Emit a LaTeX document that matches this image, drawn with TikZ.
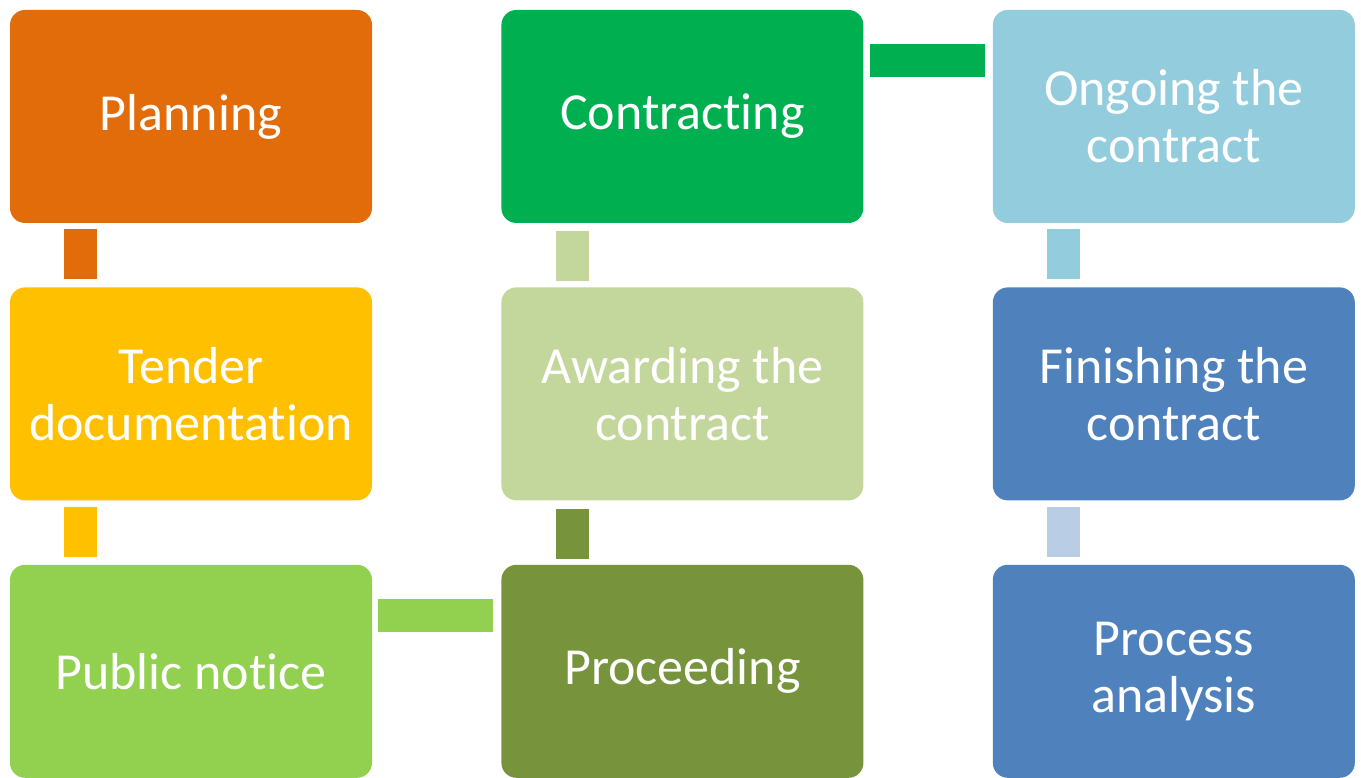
\documentclass[tikz,border=0pt]{standalone}
\usepackage{fontspec}
\setmainfont[Ligatures=NoCommon]{Carlito}
\usetikzlibrary{positioning}

\definecolor{planorange}{HTML}{E26B0A}
\definecolor{tenderyellow}{HTML}{FFC000}
\definecolor{noticegreen}{HTML}{92D050}
\definecolor{proceedolive}{HTML}{77933C}
\definecolor{awardgreen}{HTML}{C3D69B}
\definecolor{contractgreen}{HTML}{00B050}
\definecolor{ongoingblue}{HTML}{93CDDD}
\definecolor{finishblue}{HTML}{4F81BD}
\definecolor{finishpale}{HTML}{B9CDE5}

\begin{document}
\begin{tikzpicture}[x=1pt,y=1pt,node distance=64pt and 129pt,
    box/.style={rectangle,rounded corners=15pt,minimum width=362pt,
                minimum height=213pt,inner sep=0pt,align=center,text=white,
                font=\fontsize{52}{57}\selectfont},
    link/.style={line width=33pt,shorten <=6pt,shorten >=8pt}]

    \useasboundingbox (0,0) rectangle (1361,778);

    % first column
    \node[box,fill=planorange] (plan) at (191,661.5) {Planning};
    \node[box,fill=tenderyellow] (tender) [below=of plan] {Tender\\documentation};
    \node[box,fill=noticegreen] (notice) [below=of tender] {Public notice};

    % second column
    \node[box,fill=proceedolive] (proceed) [right=of notice] {Proceeding};
    \node[box,fill=awardgreen] (award) [above=of proceed] {Awarding the\\contract};
    \node[box,fill=contractgreen] (contract) [above=of award] {Contracting};

    % third column
    \node[box,fill=ongoingblue] (ongoing) [right=of contract] {Ongoing the\\contract};
    \node[box,fill=finishblue] (finish) [below=of ongoing] {Finishing the\\contract};
    \node[box,fill=finishblue] (analysis) [below=of finish] {Process\\analysis};

    % links
    \draw[link,planorange] ([xshift=71pt]plan.south west) -- ([xshift=71pt]tender.north west);
    \draw[link,tenderyellow] ([xshift=71pt]tender.south west) -- ([xshift=71pt]notice.north west);
    \draw[link,noticegreen] ([yshift=-51pt]notice.north east) -- ([yshift=-51pt]proceed.north west);
    \draw[link,proceedolive] ([xshift=71pt]proceed.north west) -- ([xshift=71pt]award.south west);
    \draw[link,awardgreen] ([xshift=71pt]award.north west) -- ([xshift=71pt]contract.south west);
    \draw[link,contractgreen] ([yshift=-51pt]contract.north east) -- ([yshift=-51pt]ongoing.north west);
    \draw[link,ongoingblue] ([xshift=71pt]ongoing.south west) -- ([xshift=71pt]finish.north west);
    \draw[link,finishpale] ([xshift=71pt]finish.south west) -- ([xshift=71pt]analysis.north west);
\end{tikzpicture}
\end{document}
